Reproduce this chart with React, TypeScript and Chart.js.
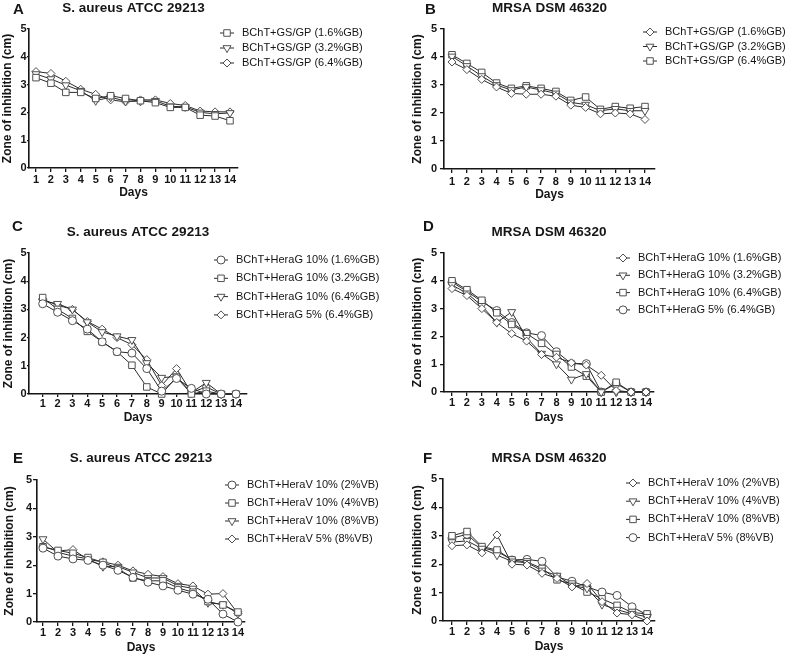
import React, { useEffect, useRef } from 'react';
import { Chart, registerables } from 'chart.js';
import { drawPoint } from 'chart.js/helpers';

Chart.register(...registerables);

// ---------------- DATA ----------------
const DAYS = [1, 2, 3, 4, 5, 6, 7, 8, 9, 10, 11, 12, 13, 14];
const Y_AXIS_TITLE = 'Zone of inhibition (cm)';
const X_AXIS_TITLE = 'Days';
const TITLE_SA = 'S. aureus ATCC 29213';
const TITLE_MRSA = 'MRSA DSM 46320';

// Panel A / B labels
const GS_LABELS = ['BChT+GS/GP (1.6%GB)', 'BChT+GS/GP (3.2%GB)', 'BChT+GS/GP (6.4%GB)'];
// Panel C / D labels
const HERAG_LABELS = ['BChT+HeraG 10% (1.6%GB)', 'BChT+HeraG 10% (3.2%GB)', 'BChT+HeraG 10% (6.4%GB)', 'BChT+HeraG 5% (6.4%GB)'];
// Panel E / F labels
const HERAV_LABELS = ['BChT+HeraV 10% (2%VB)', 'BChT+HeraV 10% (4%VB)', 'BChT+HeraV 10% (8%VB)', 'BChT+HeraV 5% (8%VB)'];

// A: S. aureus, GS/GP
const A_GB16 = [3.25, 3.05, 2.72, 2.72, 2.5, 2.6, 2.5, 2.42, 2.35, 2.18, 2.18, 1.9, 1.87, 1.7];
const A_GB32 = [3.38, 3.2, 2.98, 2.78, 2.42, 2.55, 2.4, 2.4, 2.42, 2.22, 2.2, 2.0, 1.95, 1.98];
const A_GB64 = [3.47, 3.4, 3.12, 2.83, 2.65, 2.45, 2.38, 2.45, 2.45, 2.32, 2.25, 2.05, 2.02, 2.02];

// B: MRSA, GS/GP
const B_GB16 = [3.82, 3.55, 3.2, 2.93, 2.7, 2.67, 2.67, 2.6, 2.28, 2.2, 1.97, 2.0, 1.97, 1.77];
const B_GB32 = [4.02, 3.68, 3.32, 3.0, 2.82, 2.93, 2.82, 2.7, 2.38, 2.3, 2.08, 2.15, 2.08, 2.08];
const B_GB64 = [4.08, 3.77, 3.45, 3.07, 2.88, 2.97, 2.88, 2.77, 2.45, 2.57, 2.13, 2.23, 2.17, 2.23];

// C: S. aureus, HeraG
const C_10_GB16 = [3.2, 2.9, 2.6, 2.3, 1.85, 1.5, 1.45, 0.9, 0.1, 0.55, 0.2, 0.0, 0.0, 0.0];
const C_10_GB32 = [3.42, 3.0, 2.68, 2.22, 1.85, 1.5, 1.02, 0.25, 0.0, 0.6, 0.0, 0.1, 0.0, 0.0];
const C_10_GB64 = [3.3, 3.2, 3.0, 2.55, 2.2, 2.05, 1.92, 1.1, 0.58, 0.62, 0.05, 0.4, 0.0, 0.0];
const C_5_GB64 = [3.35, 3.15, 3.0, 2.57, 2.3, 2.0, 1.75, 1.22, 0.3, 0.9, 0.05, 0.25, 0.0, 0.0];

// D: MRSA, HeraG
const D_10_GB16 = [3.72, 3.47, 3.0, 2.5, 2.1, 1.83, 1.35, 1.25, 1.05, 0.97, 0.6, 0.05, 0.0, 0.0];
const D_10_GB32 = [3.85, 3.55, 3.1, 2.5, 2.88, 1.95, 1.38, 1.0, 0.45, 0.65, 0.0, 0.0, 0.0, 0.0];
const D_10_GB64 = [4.0, 3.68, 3.3, 2.85, 2.43, 2.1, 1.75, 1.35, 0.9, 0.57, 0.0, 0.35, 0.0, 0.0];
const D_5_GB64 = [3.95, 3.62, 3.25, 2.93, 2.5, 2.13, 2.03, 1.45, 1.02, 1.02, 0.0, 0.3, 0.0, 0.0];

// E: S. aureus, HeraV
const E_10_VB2 = [2.6, 2.32, 2.22, 2.17, 2.0, 1.82, 1.57, 1.4, 1.27, 1.12, 0.98, 0.8, 0.28, 0.0];
const E_10_VB4 = [2.65, 2.52, 2.42, 2.27, 2.1, 1.88, 1.55, 1.45, 1.45, 1.2, 1.05, 0.72, 0.6, 0.35];
const E_10_VB8 = [2.92, 2.45, 2.32, 2.22, 1.95, 1.95, 1.75, 1.55, 1.55, 1.28, 1.18, 0.68, 0.62, 0.3];
const E_5_VB8 = [2.65, 2.5, 2.55, 2.2, 2.12, 2.0, 1.8, 1.68, 1.6, 1.35, 1.27, 0.98, 1.0, 0.3];

// F: MRSA, HeraV
const F_10_VB2 = [2.65, 2.68, 2.4, 3.03, 2.0, 1.97, 1.68, 1.5, 1.2, 1.32, 0.68, 0.28, 0.22, 0.0];
const F_10_VB4 = [2.78, 2.82, 2.55, 2.32, 2.1, 2.05, 1.78, 1.6, 1.25, 1.15, 0.58, 0.4, 0.25, 0.15];
const F_10_VB8 = [3.0, 3.15, 2.62, 2.5, 2.15, 2.08, 1.85, 1.45, 1.3, 1.02, 0.78, 0.55, 0.3, 0.25];
const F_5_VB8 = [2.92, 3.05, 2.58, 2.45, 2.15, 2.17, 2.1, 1.55, 1.4, 1.2, 1.02, 0.9, 0.5, 0.22];

// ---------------- STYLES ----------------
const FONT = '"Liberation Sans", Arial, Helvetica, sans-serif';
const INK = '#151515';
const LINE = '#2a2a2a';
const MARK = '#505050';

type Marker = { style: string; rotation: number; radius: number };
const SQUARE: Marker = { style: 'rect', rotation: 0, radius: 4.6 };
const TRI_DOWN: Marker = { style: 'triangle', rotation: 180, radius: 4.6 };
const DIAMOND: Marker = { style: 'rectRot', rotation: 0, radius: 4.0 };
const CIRCLE: Marker = { style: 'circle', rotation: 0, radius: 4.0 };

type Layout = {
  col: number;
  letterX: number; letterY: number;
  titleY: number; yTitleX: number;
  L: number; R: number; T: number; B: number;
  daysY: number; xMin: number; xMax: number;
  xGap: number; xTl: number; yGap: number;
  legX: number; legY0: number; legDy: number;
};

type PanelDef = {
  letter: string;
  title: string;
  labels: string[];
  values: number[][];
  markers: Marker[];
  lay: Layout;
};

const PANELS: PanelDef[] = [
  {
    letter: 'A', title: TITLE_SA, labels: GS_LABELS,
    values: [A_GB16, A_GB32, A_GB64], markers: [SQUARE, TRI_DOWN, DIAMOND],
    lay: { col: 0, letterX: 13, letterY: 14, titleY: 8, yTitleX: 8, L: 29, R: 238, T: 29, B: 168, daysY: 193, xMin: 0.531, xMax: 14.536, xGap: 12, xTl: 4, yGap: 2.5, legX: 242, legY0: 33, legDy: 15 },
  },
  {
    letter: 'B', title: TITLE_MRSA, labels: GS_LABELS,
    values: [B_GB16, B_GB32, B_GB64], markers: [DIAMOND, TRI_DOWN, SQUARE],
    lay: { col: 1, letterX: 425, letterY: 14, titleY: 8, yTitleX: 418, L: 444, R: 655, T: 29, B: 169, daysY: 195, xMin: 0.461, xMax: 14.674, xGap: 12.5, xTl: 4, yGap: 7, legX: 665, legY0: 32, legDy: 14.5 },
  },
  {
    letter: 'C', title: TITLE_SA, labels: HERAG_LABELS,
    values: [C_10_GB16, C_10_GB32, C_10_GB64, C_5_GB64], markers: [CIRCLE, SQUARE, TRI_DOWN, DIAMOND],
    lay: { col: 0, letterX: 12, letterY: 231, titleY: 232, yTitleX: 9, L: 29, R: 247, T: 253, B: 394, daysY: 418, xMin: 0.079, xMax: 14.74, xGap: 10, xTl: 3, yGap: 2.5, legX: 236, legY0: 260, legDy: 18.3 },
  },
  {
    letter: 'D', title: TITLE_MRSA, labels: HERAG_LABELS,
    values: [D_10_GB16, D_10_GB32, D_10_GB64, D_5_GB64], markers: [DIAMOND, TRI_DOWN, SQUARE, CIRCLE],
    lay: { col: 1, letterX: 423, letterY: 231, titleY: 232, yTitleX: 418, L: 444, R: 654, T: 253, B: 392, daysY: 418, xMin: 0.464, xMax: 14.536, xGap: 11, xTl: 4, yGap: 7, legX: 638, legY0: 258, legDy: 17.3 },
  },
  {
    letter: 'E', title: TITLE_SA, labels: HERAV_LABELS,
    values: [E_10_VB2, E_10_VB4, E_10_VB8, E_5_VB8], markers: [CIRCLE, SQUARE, TRI_DOWN, DIAMOND],
    lay: { col: 0, letterX: 13, letterY: 463, titleY: 458, yTitleX: 10, L: 37, R: 245, T: 480, B: 622, daysY: 648, xMin: 0.6, xMax: 14.47, xGap: 11, xTl: 4, yGap: 5, legX: 247, legY0: 485, legDy: 18 },
  },
  {
    letter: 'F', title: TITLE_MRSA, labels: HERAV_LABELS,
    values: [F_10_VB2, F_10_VB4, F_10_VB8, F_5_VB8], markers: [DIAMOND, TRI_DOWN, SQUARE, CIRCLE],
    lay: { col: 1, letterX: 423, letterY: 463, titleY: 458, yTitleX: 418, L: 443, R: 655, T: 479, B: 621, daysY: 647, xMin: 0.4, xMax: 14.53, xGap: 11, xTl: 4, yGap: 6, legX: 648, legY0: 483, legDy: 18.2 },
  },
];

// ---------------- PLUGIN: panel letter + legend ----------------
const decorPlugin = {
  id: 'panelDecor',
  afterDraw(chart: any, _args: any, opts: any) {
    const ctx = chart.ctx as CanvasRenderingContext2D;
    const ox = opts.originX;
    const oy = opts.originY;
    ctx.save();
    ctx.fillStyle = INK;
    ctx.font = `bold 15px ${FONT}`;
    ctx.textAlign = 'left';
    ctx.textBaseline = 'alphabetic';
    ctx.fillText(opts.letter, opts.letterX - ox, opts.letterY - oy);

    ctx.font = `11px ${FONT}`;
    ctx.textBaseline = 'middle';
    chart.data.datasets.forEach((ds: any, i: number) => {
      const y = opts.legY0 + i * opts.legDy - oy;
      const tx = opts.legX - ox;
      ctx.strokeStyle = ds.borderColor;
      ctx.lineWidth = 1;
      ctx.beginPath();
      ctx.moveTo(tx - 22, y);
      ctx.lineTo(tx - 8, y);
      ctx.stroke();
      ctx.fillStyle = '#ffffff';
      ctx.strokeStyle = ds.pointBorderColor;
      ctx.lineWidth = 1;
      drawPoint(ctx, { pointStyle: ds.pointStyle, rotation: ds.pointRotation, radius: ds.pointRadius, borderWidth: 1 } as any, tx - 15, y);
      ctx.fillStyle = INK;
      ctx.fillText(ds.label, tx, y);
    });
    ctx.restore();
  },
};

function Panel({ p }: { p: PanelDef }) {
  const ref = useRef<HTMLCanvasElement | null>(null);
  const lay = p.lay;
  const cLeft = Math.floor(lay.yTitleX - 7.2);
  const cTop = Math.floor(Math.min(lay.titleY - 8.1, lay.letterY - 16));
  const cRight = lay.col === 0 ? 398 : 785;
  const cW = cRight - cLeft;
  const cBottom = Math.ceil(lay.daysY + 10);
  const cH = cBottom - cTop;

  useEffect(() => {
    const canvas = ref.current;
    if (!canvas) return;
    const yTitlePad = lay.yTitleX - 7.2 - cLeft;
    const tPadTop = lay.titleY - 8.1 - cTop;
    const tPadBottom = lay.T - cTop - tPadTop - 16.2;
    const xH = cH - (lay.B - cTop);
    const yW = lay.L - cLeft;
    const padRight = cW - (lay.R - cLeft);
    const xTitlePadB = cTop + cH - lay.daysY - 7.2;
    const xPad = lay.xGap - lay.xTl - 6.6;
    const yTl = lay.yGap >= 5 ? 4 : 2;
    const yPad = lay.yGap - yTl;

    const chart = new Chart(canvas, {
      type: 'line',
      data: {
        datasets: p.labels.map((label, k) => ({
          label,
          data: DAYS.map((d, i) => ({ x: d, y: p.values[k][i] })),
          borderColor: LINE,
          borderWidth: 1,
          pointStyle: p.markers[k].style as any,
          pointRotation: p.markers[k].rotation,
          pointRadius: p.markers[k].radius,
          pointHoverRadius: p.markers[k].radius,
          pointBorderColor: MARK,
          pointBackgroundColor: '#ffffff',
          pointBorderWidth: 1,
          tension: 0,
          fill: false,
          clip: false as any,
        })),
      },
      options: {
        animation: false,
        responsive: false,
        devicePixelRatio: 1,
        events: [],
        layout: { padding: { left: 0, top: 0, right: padRight, bottom: 0 } },
        plugins: {
          legend: { display: false },
          tooltip: { enabled: false },
          title: {
            display: true,
            text: p.title,
            fullSize: false,
            color: INK,
            font: { family: FONT, size: 13.5, weight: 'bold', lineHeight: 1.2 },
            padding: { top: tPadTop, bottom: tPadBottom },
          },
          panelDecor: {
            originX: cLeft, originY: cTop,
            letter: p.letter, letterX: lay.letterX, letterY: lay.letterY,
            legX: lay.legX, legY0: lay.legY0, legDy: lay.legDy,
          },
        } as any,
        scales: {
          x: {
            type: 'linear',
            min: lay.xMin,
            max: lay.xMax,
            afterBuildTicks: (s: any) => { s.ticks = DAYS.map((v) => ({ value: v })); },
            afterFit: (s: any) => { s.height = xH; },
            ticks: {
              autoSkip: false, maxRotation: 0, minRotation: 0,
              padding: xPad, color: INK,
              font: { family: FONT, size: 11, weight: 'bold', lineHeight: 1.2 },
              callback: (v: any) => String(v),
            },
            grid: { display: true, drawOnChartArea: false, drawTicks: true, tickLength: lay.xTl, color: INK, lineWidth: 1.3 },
            border: { display: true, color: INK, width: 1.6 },
            title: {
              display: true, text: X_AXIS_TITLE, color: INK,
              font: { family: FONT, size: 12, weight: 'bold', lineHeight: 1.2 },
              padding: { top: 0, bottom: xTitlePadB },
            },
          },
          y: {
            type: 'linear',
            min: 0,
            max: 5,
            afterFit: (s: any) => { s.width = yW; },
            ticks: {
              stepSize: 1, padding: yPad, color: INK,
              font: { family: FONT, size: 11, weight: 'bold', lineHeight: 1.2 },
              callback: (v: any) => String(v),
            },
            grid: { display: true, drawOnChartArea: false, drawTicks: true, tickLength: yTl, color: INK, lineWidth: 1.3 },
            border: { display: true, color: INK, width: 1.6 },
            title: {
              display: true, text: Y_AXIS_TITLE, color: INK,
              font: { family: FONT, size: 12, weight: 'bold', lineHeight: 1.2 },
              padding: { top: yTitlePad, bottom: 0 },
            },
          },
        },
      } as any,
      plugins: [decorPlugin as any],
    });
    return () => chart.destroy();
  }, []);

  return (
    <canvas
      ref={ref}
      width={cW}
      height={cH}
      style={{ position: 'absolute', left: cLeft, top: cTop, width: cW, height: cH }}
    />
  );
}

export default function App() {
  return (
    <div
      style={{
        position: 'absolute', left: 0, top: 0, width: 785, height: 655,
        overflow: 'hidden', background: '#ffffff',
      }}
    >
      {PANELS.map((p) => (
        <Panel key={p.letter} p={p} />
      ))}
    </div>
  );
}
